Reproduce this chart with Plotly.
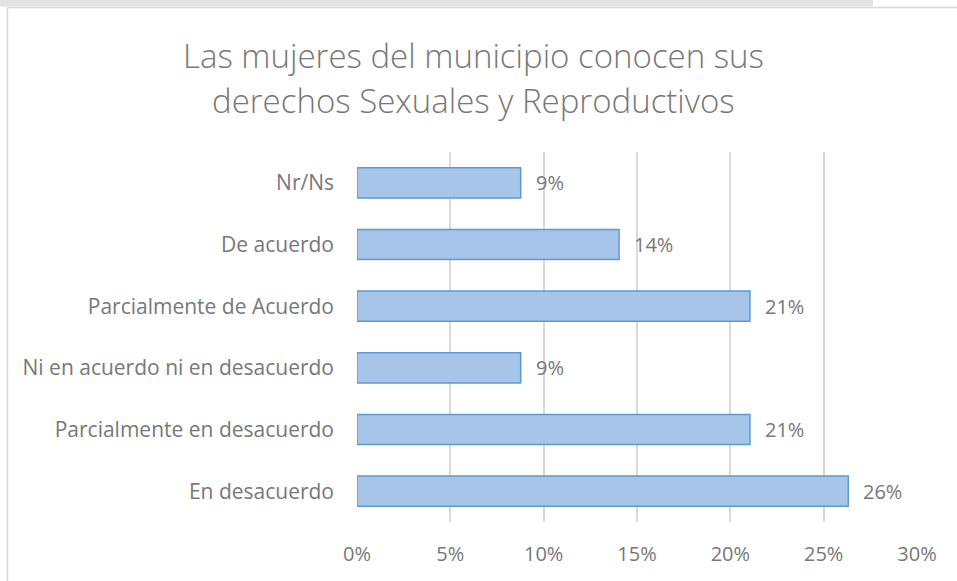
import plotly.graph_objects as go

# Survey responses (share of respondents)
categories = [
    "En desacuerdo",
    "Parcialmente en desacuerdo",
    "Ni en acuerdo ni en desacuerdo",
    "Parcialmente de Acuerdo",
    "De acuerdo",
    "Nr/Ns",
]
shares = [0.2632, 0.2105, 0.0877, 0.2105, 0.1404, 0.0877]

tick_values = [0, 0.05, 0.10, 0.15, 0.20, 0.25, 0.30]
tick_labels = ["0%", "5%", "10%", "15%", "20%", "25%", "30%"]

title_lines = [
    "Las mujeres del municipio conocen sus",
    "derechos Sexuales y Reproductivos",
]

W, H = 957, 581
ML, MR, MT, MB = 357, 40, 152, 59
PW, PH = W - ML - MR, H - MT - MB

TEXT = "#787878"
GRID = "#D9D9D9"
FONT = "Open Sans"
CAT_FONT = dict(family=FONT, size=21, color=TEXT)
NUM_FONT = dict(family=FONT, size=20, color=TEXT)


def px_x(p):
    return (p - ML) / PW


def px_y(p):
    return (H - MB - p) / PH


fig = go.Figure()
fig.add_trace(go.Bar(
    y=categories,
    x=shares,
    orientation="h",
    width=0.49,
    marker=dict(color="#A7C4E9", line=dict(color="#5B9BD5", width=1.5)),
    hoverinfo="skip",
))

# Value labels to the right of each bar
for cat, val in zip(categories, shares):
    fig.add_annotation(
        x=val, y=cat, xref="x", yref="y",
        text=f"{val:.0%}", showarrow=False,
        xanchor="left", xshift=13,
        font=NUM_FONT,
    )

# Two-line chart title
for line, ypx in zip(title_lines, [55, 100]):
    fig.add_annotation(
        x=px_x(473), y=px_y(ypx), xref="paper", yref="paper",
        text=line, showarrow=False, xanchor="center", yanchor="middle",
        font=dict(family=FONT, size=33, color=TEXT, weight=300),
    )

shapes = [
    # strip along the top edge
    dict(type="rect", xref="paper", yref="paper",
         x0=px_x(0), x1=px_x(873), y0=px_y(0), y1=px_y(6.5),
         fillcolor="#E3E3E3", line=dict(width=0), layer="below"),
    # chart frame: top and left edges
    dict(type="line", xref="paper", yref="paper",
         x0=px_x(7.5), x1=px_x(W + 2), y0=px_y(7.5), y1=px_y(7.5),
         line=dict(color=GRID, width=1.5)),
    dict(type="line", xref="paper", yref="paper",
         x0=px_x(7.5), x1=px_x(7.5), y0=px_y(7.5), y1=px_y(H + 2),
         line=dict(color=GRID, width=1.5)),
]

fig.update_layout(
    width=W, height=H,
    margin=dict(l=ML, r=MR, t=MT, b=MB, autoexpand=False),
    paper_bgcolor="white", plot_bgcolor="white",
    showlegend=False,
    shapes=shapes,
    font=dict(family=FONT, color=TEXT),
    bargap=0.51,
)

fig.update_xaxes(
    range=[0, 0.30],
    tickvals=tick_values, ticktext=tick_labels,
    showgrid=True, gridcolor=GRID, gridwidth=1.5,
    zeroline=False, showline=False,
    ticks="", ticklabelstandoff=18,
    tickfont=NUM_FONT,
    fixedrange=True,
)
fig.update_yaxes(
    categoryorder="array", categoryarray=categories,
    showgrid=False, zeroline=False, showline=False,
    ticks="", ticklabelstandoff=22,
    tickfont=CAT_FONT,
    fixedrange=True,
)

fig.write_html("out.html")
